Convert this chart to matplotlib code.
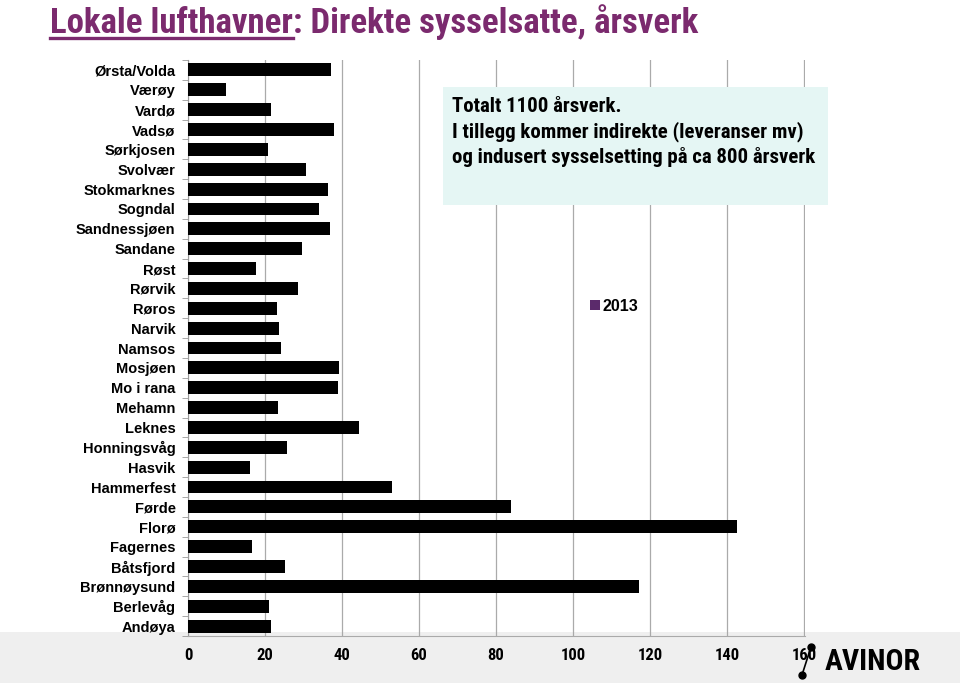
import matplotlib.pyplot as plt
import matplotlib.patches as mpatches
from matplotlib.lines import Line2D

airports = ['Ørsta/Volda', 'Værøy', 'Vardø', 'Vadsø', 'Sørkjosen', 'Svolvær',
            'Stokmarknes', 'Sogndal', 'Sandnessjøen', 'Sandane', 'Røst', 'Rørvik',
            'Røros', 'Narvik', 'Namsos', 'Mosjøen', 'Mo i rana', 'Mehamn', 'Leknes',
            'Honningsvåg', 'Hasvik', 'Hammerfest', 'Førde', 'Florø', 'Fagernes',
            'Båtsfjord', 'Brønnøysund', 'Berlevåg', 'Andøya']
aarsverk_2013 = [37.1, 9.9, 21.5, 37.9, 20.7, 30.6, 36.3, 34.0, 36.8, 29.6, 17.6,
                 28.5, 23.1, 23.6, 24.1, 39.2, 38.9, 23.3, 44.3, 25.7, 16.1, 52.9,
                 84.0, 142.6, 16.6, 25.2, 117.1, 21.0, 21.5]
x_ticks = [0, 20, 40, 60, 80, 100, 120, 140, 160]

NARROW = ['Roboto Condensed', 'DejaVu Sans']
ARIAL = ['Liberation Sans', 'DejaVu Sans']
PURPLE = '#7b2a6e'

fig = plt.figure(figsize=(9.6, 6.83), dpi=100)
fig.patch.set_facecolor('white')

# grey band at the bottom of the slide
fig.patches.append(mpatches.Rectangle((0, 0), 1, 51 / 683, transform=fig.transFigure,
                                      facecolor='#efefef', edgecolor='none', zorder=0))

ax = fig.add_axes([188 / 960, 1 - 636 / 683, 617 / 960, 576 / 683])
ax.set_zorder(1)
ax.set_facecolor('none')
ypos = list(range(len(airports)))
ax.barh(ypos, aarsverk_2013, height=0.65, color='black', zorder=3)
ax.set_ylim(len(airports) - 0.5, -0.5)
ax.set_xlim(0, 160.3)
ax.set_yticks(ypos)
ax.set_yticklabels(airports, fontsize=10.5, fontweight='bold', family=ARIAL)
ax.set_yticks([i + 0.5 for i in range(-1, len(airports))], minor=True)
ax.tick_params(axis='y', which='major', length=0, pad=9)
ax.tick_params(axis='y', which='minor', length=4, color='#999999', direction='out')
ax.set_xticks(x_ticks)
ax.set_xticklabels([str(t) for t in x_ticks], fontsize=12, fontweight='bold', family=NARROW)
ax.tick_params(axis='x', length=0, pad=9)
ax.grid(axis='x', color='#aaaaaa', linewidth=0.9, zorder=0)
for side in ['top', 'right']:
    ax.spines[side].set_visible(False)
ax.spines['left'].set_color('#999999')
ax.spines['bottom'].set_color('#aaaaaa')

# legend with purple square
handle = mpatches.Patch(facecolor='#5b2a6b', edgecolor='none')
ax.legend([handle], ['2013'], loc='center left', bbox_to_anchor=(576 / 960, 1 - 306 / 683),
          bbox_transform=fig.transFigure, frameon=False,
          prop={'family': ARIAL, 'size': 11.5, 'weight': 'bold'},
          handlelength=0.6, handleheight=0.6, handletextpad=0.15)

# note box
fig.patches.append(mpatches.Rectangle((443 / 960, 1 - 205 / 683), 385 / 960, 118 / 683,
                                      transform=fig.transFigure, facecolor='#e5f6f4',
                                      edgecolor='none', zorder=5))
note = ['Totalt 1100 årsverk.',
        'I tillegg kommer indirekte (leveranser mv)',
        'og indusert sysselsetting på ca 800 årsverk']
for i, line in enumerate(note):
    fig.text(452 / 960, 1 - (107 + 25 * i) / 683, line, fontsize=15, fontweight='bold',
             family=NARROW, va='center', ha='left', zorder=6)

# title, first part underlined
t1 = fig.text(50 / 960, 1 - 33 / 683, 'Lokale lufthavner', fontsize=25, fontweight='bold',
              family=NARROW, color=PURPLE, va='baseline')
fig.canvas.draw()
bb = t1.get_window_extent().transformed(fig.transFigure.inverted())
fig.text(bb.x1, 1 - 33 / 683, ': Direkte sysselsatte, årsverk', fontsize=25, fontweight='bold',
         family=NARROW, color=PURPLE, va='baseline')
fig.add_artist(Line2D([bb.x0, bb.x1], [1 - 38 / 683] * 2, transform=fig.transFigure,
                      color=PURPLE, linewidth=2.4))

# Avinor logo
fig.text(825 / 960, 1 - 662 / 683, 'AVINOR', fontsize=21.5, fontweight='bold',
         family=NARROW, color='black', va='center', ha='left')
fig.add_artist(Line2D([802 / 960, 811 / 960], [1 - 675 / 683, 1 - 647 / 683],
                      transform=fig.transFigure, color='black', linewidth=1.2))
fig.add_artist(Line2D([802 / 960, 811 / 960], [1 - 675 / 683, 1 - 647 / 683],
                      transform=fig.transFigure, color='black', linestyle='none',
                      marker='o', markersize=5))

fig.savefig('out.png', dpi=100)
